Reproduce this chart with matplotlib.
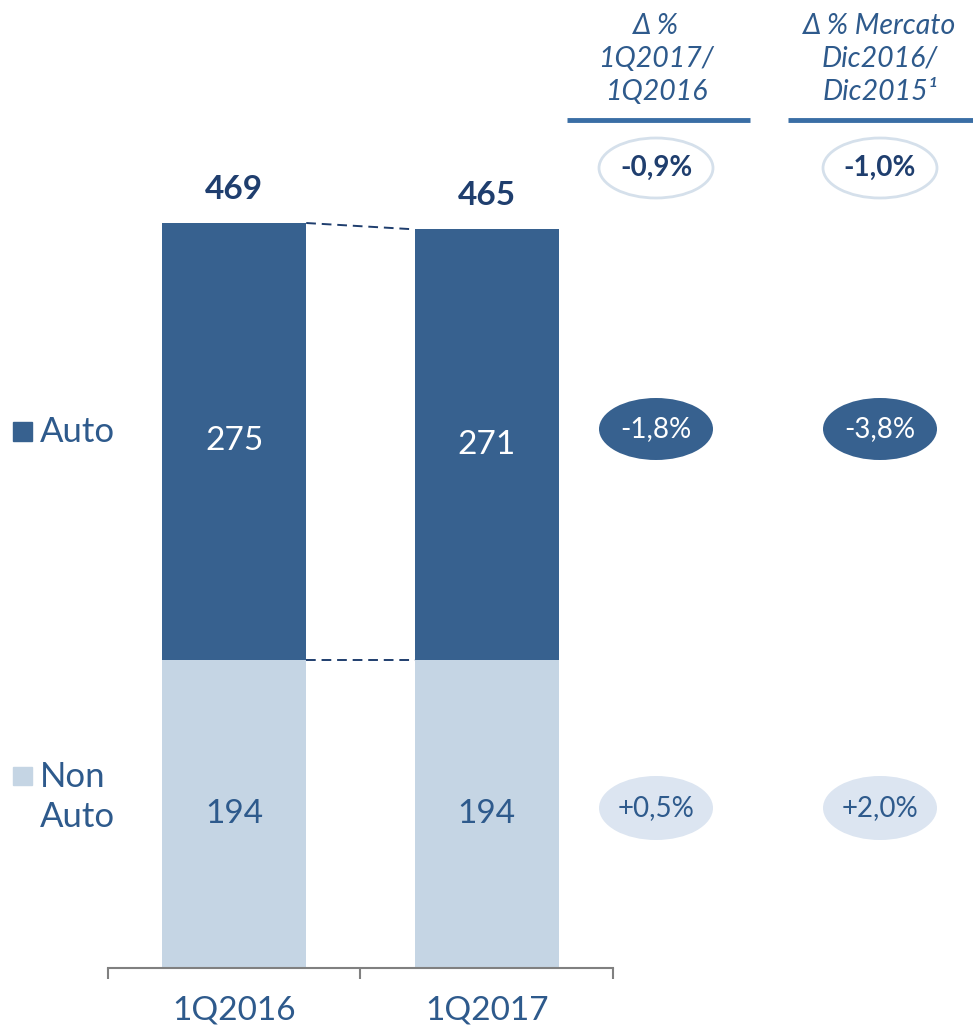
import matplotlib.pyplot as plt
from matplotlib.patches import Ellipse

# dati (milioni di euro)
periods = ["1Q2016", "1Q2017"]
non_auto = [194, 194]
auto = [275, 271]
totals = [469, 465]

# variazioni %
col_titles = ["Δ %\n1Q2017/\n1Q2016", "Δ % Mercato\nDic2016/\nDic2015¹"]
delta_total = ["-0,9%", "-1,0%"]
delta_auto = ["-1,8%", "-3,8%"]
delta_non_auto = ["+0,5%", "+2,0%"]

DARK = "#37618F"
LIGHT = "#C5D5E4"
TXT = "#2E5A8C"
NAVY = "#1F3E6E"
FONT = ["Lato", "DejaVu Sans"]

W, H = 973, 1027
fig = plt.figure(figsize=(W / 100, H / 100), dpi=100)

# --- grafico a barre ---
ax = fig.add_axes([108 / W, 1 - 968 / H, (613 - 108) / W, (968 - 142) / H])
x = range(len(periods))
bw = 0.57
ax.bar(x, non_auto, width=bw, color=LIGHT)
ax.bar(x, auto, width=bw, bottom=non_auto, color=DARK)
ax.set_xlim(-0.5, 1.5)
ax.set_ylim(0, 520)

for i in x:
    ax.text(i, non_auto[i] / 2, str(non_auto[i]), ha="center", va="center",
            fontsize=24, color=TXT, family=FONT)
    ax.text(i, non_auto[i] + auto[i] / 2, str(auto[i]), ha="center", va="center",
            fontsize=24, color="white", family=FONT)
    ax.text(i, totals[i] + 12, str(totals[i]), ha="center", va="bottom",
            fontsize=24, color=NAVY, family=FONT, fontweight="bold")

# linee tratteggiate di collegamento
ax.plot([0 + bw / 2, 1 - bw / 2], [totals[0], totals[1]], ls=(0, (5, 3)),
        color=NAVY, lw=1.4)
ax.plot([0 + bw / 2, 1 - bw / 2], [non_auto[0], non_auto[1]], ls=(0, (5, 3)),
        color=NAVY, lw=1.4)

for s in ["top", "left", "right"]:
    ax.spines[s].set_visible(False)
ax.spines["bottom"].set_color("#808080")
ax.spines["bottom"].set_linewidth(1.5)
ax.set_yticks([])
ax.set_xticks([-0.5, 0.5, 1.5], minor=True)
ax.tick_params(axis="x", which="minor", length=8, width=1.5, color="#808080")
ax.set_xticks(list(x))
ax.set_xticklabels(periods, fontsize=24, color=TXT, family=FONT)
ax.tick_params(axis="x", which="major", length=0, pad=20)

# --- overlay in coordinate pixel per legenda e variazioni ---
ov = fig.add_axes([0, 0, 1, 1], zorder=3)
ov.set_xlim(0, W)
ov.set_ylim(H, 0)
ov.axis("off")

# legenda
ov.add_patch(plt.Rectangle((13, 422), 19, 19, color=DARK))
ov.text(40, 432, "Auto", va="center", ha="left", fontsize=25, color=TXT, family=FONT)
ov.add_patch(plt.Rectangle((13, 767), 19, 18, color=LIGHT))
ov.text(40, 797, "Non\nAuto", va="center", ha="left", fontsize=25, color=TXT,
        family=FONT, linespacing=1.3)

col_x = [656, 880]
line_span = [(567, 750), (788, 973)]
for j, cx in enumerate(col_x):
    ov.text(cx, 59, col_titles[j], ha="center", va="center", fontsize=20.5,
            color=TXT, family=FONT, style="italic", linespacing=1.35)
    ov.plot(line_span[j], [120, 120], color="#3A6EA5", lw=3.5, solid_capstyle="butt")

    ov.add_patch(Ellipse((cx, 168), 114, 60, facecolor="white",
                         edgecolor="#D5E0EB", lw=2))
    ov.text(cx, 168, delta_total[j], ha="center", va="center", fontsize=20,
            color=NAVY, family=FONT, fontweight="bold")

    ov.add_patch(Ellipse((cx, 429), 114, 62, facecolor=DARK, edgecolor="none"))
    ov.text(cx, 429, delta_auto[j], ha="center", va="center", fontsize=20,
            color="white", family=FONT)

    ov.add_patch(Ellipse((cx, 808), 114, 64, facecolor="#DCE5F1", edgecolor="none"))
    ov.text(cx, 808, delta_non_auto[j], ha="center", va="center", fontsize=20,
            color=TXT, family=FONT)

fig.savefig("out.png", dpi=100)
